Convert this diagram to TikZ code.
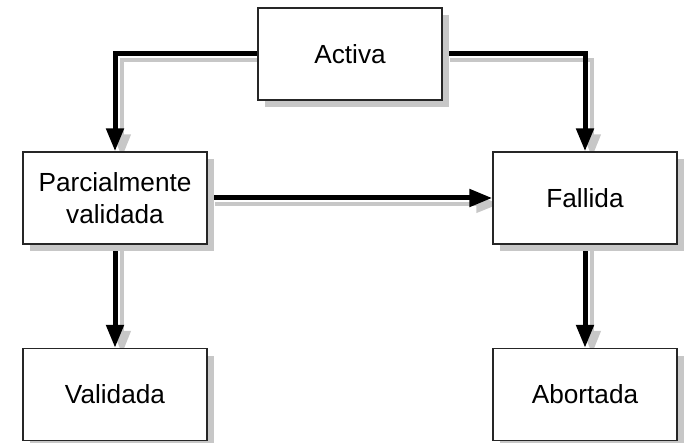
\documentclass[tikz,border=0pt]{standalone}
\usepackage{fontspec}
\setmainfont{Liberation Sans}
\usetikzlibrary{arrows.meta,shadows}
\pgfdeclarelayer{lines}
\pgfsetlayers{lines,main}
\begin{document}
\begin{tikzpicture}[x=1pt,y=-1pt,
  state/.style={draw=black!85, line width=1.4pt, fill=white,
    minimum width=184pt, minimum height=92pt, inner sep=0pt,
    align=center, font=\fontsize{26.2pt}{32pt}\selectfont,
    drop shadow={shadow xshift=7pt, shadow yshift=-7pt, fill=black!22, opacity=1}},
  flow/.style={line width=5pt, black, -{Triangle[length=23pt,width=17pt]}},
  flowshade/.style={line width=4pt, black!22, -{Triangle[length=23pt,width=17pt]},
    transform canvas={shift={(7pt,-6pt)}}}]
\useasboundingbox (0,0) rectangle (685,443);
% states
\node[state] (act) at (350,54) {Activa};
\node[state] (par) at (115,198) {Parcialmente\\validada};
\node[state] (fal) at (585,198) {Fallida};
\node[state] (val) at (115,394.5) {Validada};
\node[state] (abo) at (585,394.5) {Abortada};
% connectors and their shadows, beneath the boxes
\begin{pgfonlayer}{lines}
\foreach \s in {flowshade,flow}{
  \draw[\s] (act.west) -| (par.north);
  \draw[\s] (act.east) -| (fal.north);
  \draw[\s] (par.east) -- (fal.west);
  \draw[\s] (par.south) -- (val.north);
  \draw[\s] (fal.south) -- (abo.north);
}
\end{pgfonlayer}
\end{tikzpicture}
\end{document}
